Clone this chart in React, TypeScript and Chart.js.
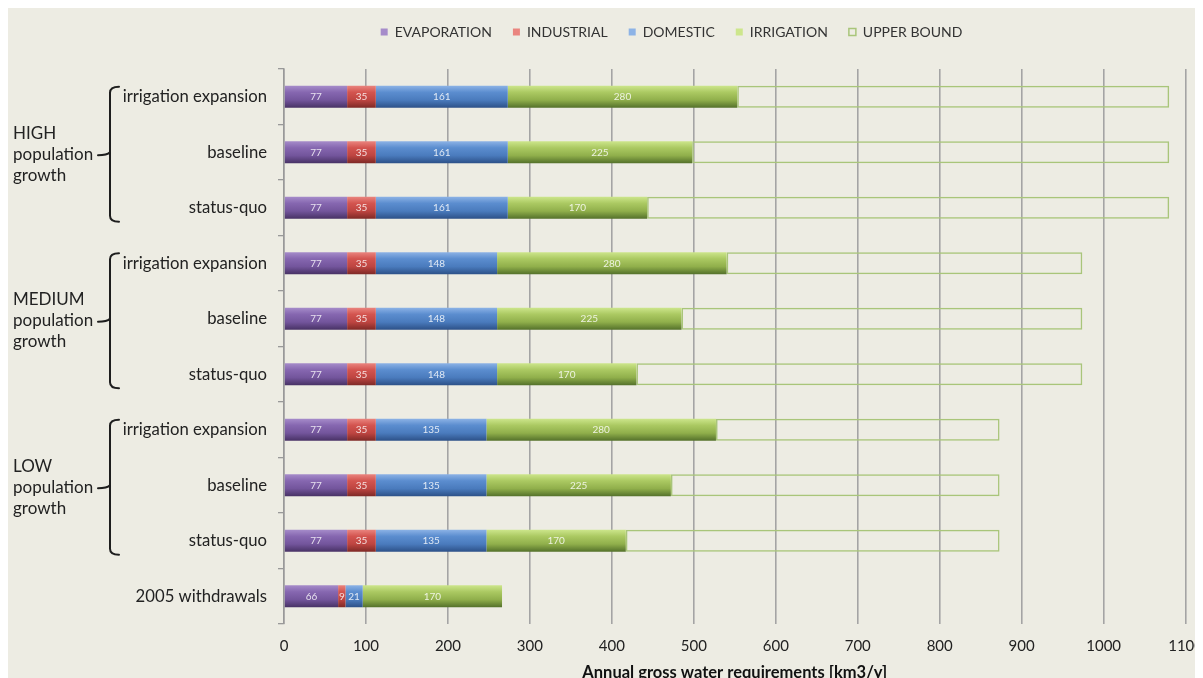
import React, { useEffect, useRef } from 'react';
import { Chart, registerables } from 'chart.js';

Chart.register(...registerables);

// ---------- data ----------
const categories = [
  'irrigation expansion', 'baseline', 'status-quo',
  'irrigation expansion', 'baseline', 'status-quo',
  'irrigation expansion', 'baseline', 'status-quo',
  '2005 withdrawals',
];
const evaporation = [77, 77, 77, 77, 77, 77, 77, 77, 77, 66];
const industrial = [35, 35, 35, 35, 35, 35, 35, 35, 35, 9];
const domestic = [161, 161, 161, 148, 148, 148, 135, 135, 135, 21];
const irrigation = [280, 225, 170, 280, 225, 170, 280, 225, 170, 170];
const upperBound: (number | null)[] = [1080, 1080, 1080, 974, 974, 974, 873, 873, 873, null];

const xTickValues = [0, 100, 200, 300, 400, 500, 600, 700, 800, 900, 1000, 1100];
const seriesNames = ['EVAPORATION', 'INDUSTRIAL', 'DOMESTIC', 'IRRIGATION', 'UPPER BOUND'];
const xTitle = 'Annual gross water requirements [km3/y]';

const groupNames = [
  ['HIGH', 'population', 'growth'],
  ['MEDIUM', 'population', 'growth'],
  ['LOW', 'population', 'growth'],
];
const groupFirst = [0, 3, 6];
const groupLast = [2, 5, 8];

const totals = categories.map((_, i) => evaporation[i] + industrial[i] + domestic[i] + irrigation[i]);
const headroom = upperBound.map((u, i) => (u == null ? null : u - totals[i]));

// ---------- styles ----------
const FONT = 'Lato';
const BG = '#EDECE3';
const BAR_PCT = 0.4;

const palettes = {
  purple: ['#a68cca', '#8667b0', '#73559c', '#473164'],
  red: ['#ea857f', '#d3544f', '#be4541', '#7d2926'],
  blue: ['#8db3e6', '#5b8dcf', '#4a7bbd', '#2c5087'],
  green: ['#cde68c', '#abc962', '#90af4b', '#53702a'],
};

function gradient(stops: string[]) {
  return (ctx: any) => {
    if (ctx.type !== 'data') return stops[2];
    const chart = ctx.chart;
    const ys = chart.scales && chart.scales.y;
    if (!ys || !chart.chartArea) return stops[2];
    const yc = ys.getPixelForValue(ctx.dataIndex);
    const step = Math.abs(ys.getPixelForValue(1) - ys.getPixelForValue(0));
    const half = (step * BAR_PCT) / 2;
    if (!isFinite(yc) || !isFinite(half) || half <= 0) return stops[2];
    const g = chart.ctx.createLinearGradient(0, yc - half, 0, yc + half);
    g.addColorStop(0, stops[0]);
    g.addColorStop(0.3, stops[1]);
    g.addColorStop(0.65, stops[2]);
    g.addColorStop(1, stops[3]);
    return g;
  };
}

// legend sizing / placement
const legendSpace = {
  id: 'legendSpace',
  beforeInit(chart: any) {
    const legend = chart.legend;
    if (!legend) return;
    const fit = legend.fit;
    legend.fit = function () {
      fit.bind(legend)();
      this.height = 61;
    };
  },
  afterLayout(chart: any) {
    const legend = chart.legend;
    if (!legend) return;
    const dx = 663.5 - (legend.left + legend.right) / 2;
    legend.left += dx;
    legend.right += dx;
    legend.top -= 4;
    legend.bottom -= 4;
  },
};

// segment value labels
const valueLabels = {
  id: 'valueLabels',
  afterDatasetsDraw(chart: any) {
    const ctx = chart.ctx;
    ctx.save();
    ctx.font = `10px ${FONT}`;
    ctx.fillStyle = 'rgba(255,255,255,0.82)';
    ctx.textAlign = 'center';
    ctx.textBaseline = 'middle';
    for (let d = 0; d < 4; d++) {
      const meta = chart.getDatasetMeta(d);
      const data = chart.data.datasets[d].data;
      meta.data.forEach((el: any, i: number) => {
        const v = data[i];
        if (v == null) return;
        const { x, base, y } = el.getProps(['x', 'base', 'y'], true);
        ctx.fillText(String(v), (x + base) / 2, y + 0.5);
      });
    }
    ctx.restore();
  },
};

// group labels and braces
const groupBraces = {
  id: 'groupBraces',
  afterDraw(chart: any) {
    const ctx = chart.ctx;
    const ys = chart.scales.y;
    ctx.save();
    groupNames.forEach((lines, g) => {
      const y0 = ys.getPixelForValue(groupFirst[g]);
      const y1 = ys.getPixelForValue(groupLast[g]);
      const mid = (y0 + y1) / 2 + 2;
      const halfH = (y1 - y0) / 2 + 12;
      ctx.font = `17px ${FONT}`;
      ctx.fillStyle = '#222';
      ctx.textAlign = 'left';
      ctx.textBaseline = 'middle';
      lines.forEach((t, k) => {
        ctx.fillText(t, 5, mid + (k - 1) * 21);
      });
      const xv = 102;
      const top = mid - halfH;
      const bottom = mid + halfH;
      ctx.strokeStyle = '#1e1e1e';
      ctx.lineWidth = 2;
      ctx.lineCap = 'round';
      ctx.beginPath();
      ctx.moveTo(xv + 9, top);
      ctx.quadraticCurveTo(xv, top, xv, top + 6);
      ctx.lineTo(xv, bottom - 6);
      ctx.quadraticCurveTo(xv, bottom, xv + 9, bottom);
      ctx.stroke();
      ctx.beginPath();
      ctx.moveTo(xv - 12, mid + 1);
      ctx.quadraticCurveTo(xv - 3, mid + 1, xv, mid - 2);
      ctx.stroke();
    });
    ctx.restore();
  },
};

export default function App() {
  const canvasRef = useRef<HTMLCanvasElement | null>(null);

  useEffect(() => {
    document.documentElement.style.overflow = 'hidden';
    document.body.style.overflow = 'hidden';
    if (!canvasRef.current) return;
    const chart = new Chart(canvasRef.current, {
      type: 'bar',
      data: {
        labels: categories,
        datasets: [
          { label: seriesNames[0], data: evaporation, backgroundColor: gradient(palettes.purple), borderWidth: 0 },
          { label: seriesNames[1], data: industrial, backgroundColor: gradient(palettes.red), borderWidth: 0 },
          { label: seriesNames[2], data: domestic, backgroundColor: gradient(palettes.blue), borderWidth: 0 },
          { label: seriesNames[3], data: irrigation, backgroundColor: gradient(palettes.green), borderWidth: 0 },
          {
            label: seriesNames[4],
            data: headroom,
            backgroundColor: 'rgba(0,0,0,0)',
            borderColor: '#a9c57a',
            borderWidth: 1.5,
            borderSkipped: false,
          },
        ],
      },
      options: {
        indexAxis: 'y',
        animation: false,
        responsive: true,
        maintainAspectRatio: false,
        datasets: { bar: { barPercentage: BAR_PCT, categoryPercentage: 1 } },
        layout: { padding: { left: 0, right: 17, top: 0, bottom: 0 } },
        scales: {
          x: {
            type: 'linear',
            stacked: true,
            min: 0,
            max: 1100,
            afterBuildTicks: (s: any) => {
              s.ticks = xTickValues.map((v) => ({ value: v }));
            },
            afterFit: (s: any) => {
              s.height = 74;
            },
            ticks: {
              padding: 0,
              color: '#222',
              font: { family: FONT, size: 15 },
              callback: (v: any) => String(v),
            },
            grid: {
              color: '#a4a4a4',
              lineWidth: 1.6,
              drawTicks: true,
              tickLength: 13,
              tickColor: 'rgba(0,0,0,0)',
            },
            border: { display: false },
            title: {
              display: true,
              text: xTitle,
              color: '#111',
              font: { family: FONT, size: 16.5, weight: 'bold' },
              padding: { top: 0, bottom: 15 },
            },
          },
          y: {
            type: 'category',
            stacked: true,
            afterFit: (s: any) => {
              s.width = 276;
            },
            ticks: {
              padding: 11,
              color: '#222',
              font: { family: FONT, size: 16.7 },
            },
            grid: {
              display: true,
              drawOnChartArea: false,
              drawTicks: true,
              tickLength: 6,
              color: '#999',
              lineWidth: 1.3,
              offset: true,
            },
            border: { display: true, color: '#999', width: 1.5 },
          },
        },
        plugins: {
          legend: {
            position: 'top',
            labels: {
              boxWidth: 7,
              boxHeight: 7,
              padding: 21,
              color: '#333',
              font: { family: FONT, size: 14 },
            },
          },
          tooltip: { enabled: false },
        },
      },
      plugins: [legendSpace, valueLabels, groupBraces],
    } as any);
    return () => chart.destroy();
  }, []);

  return (
    <div style={{ width: 1195, height: 690, position: 'relative', background: BG }}>
      <canvas ref={canvasRef} />
    </div>
  );
}
